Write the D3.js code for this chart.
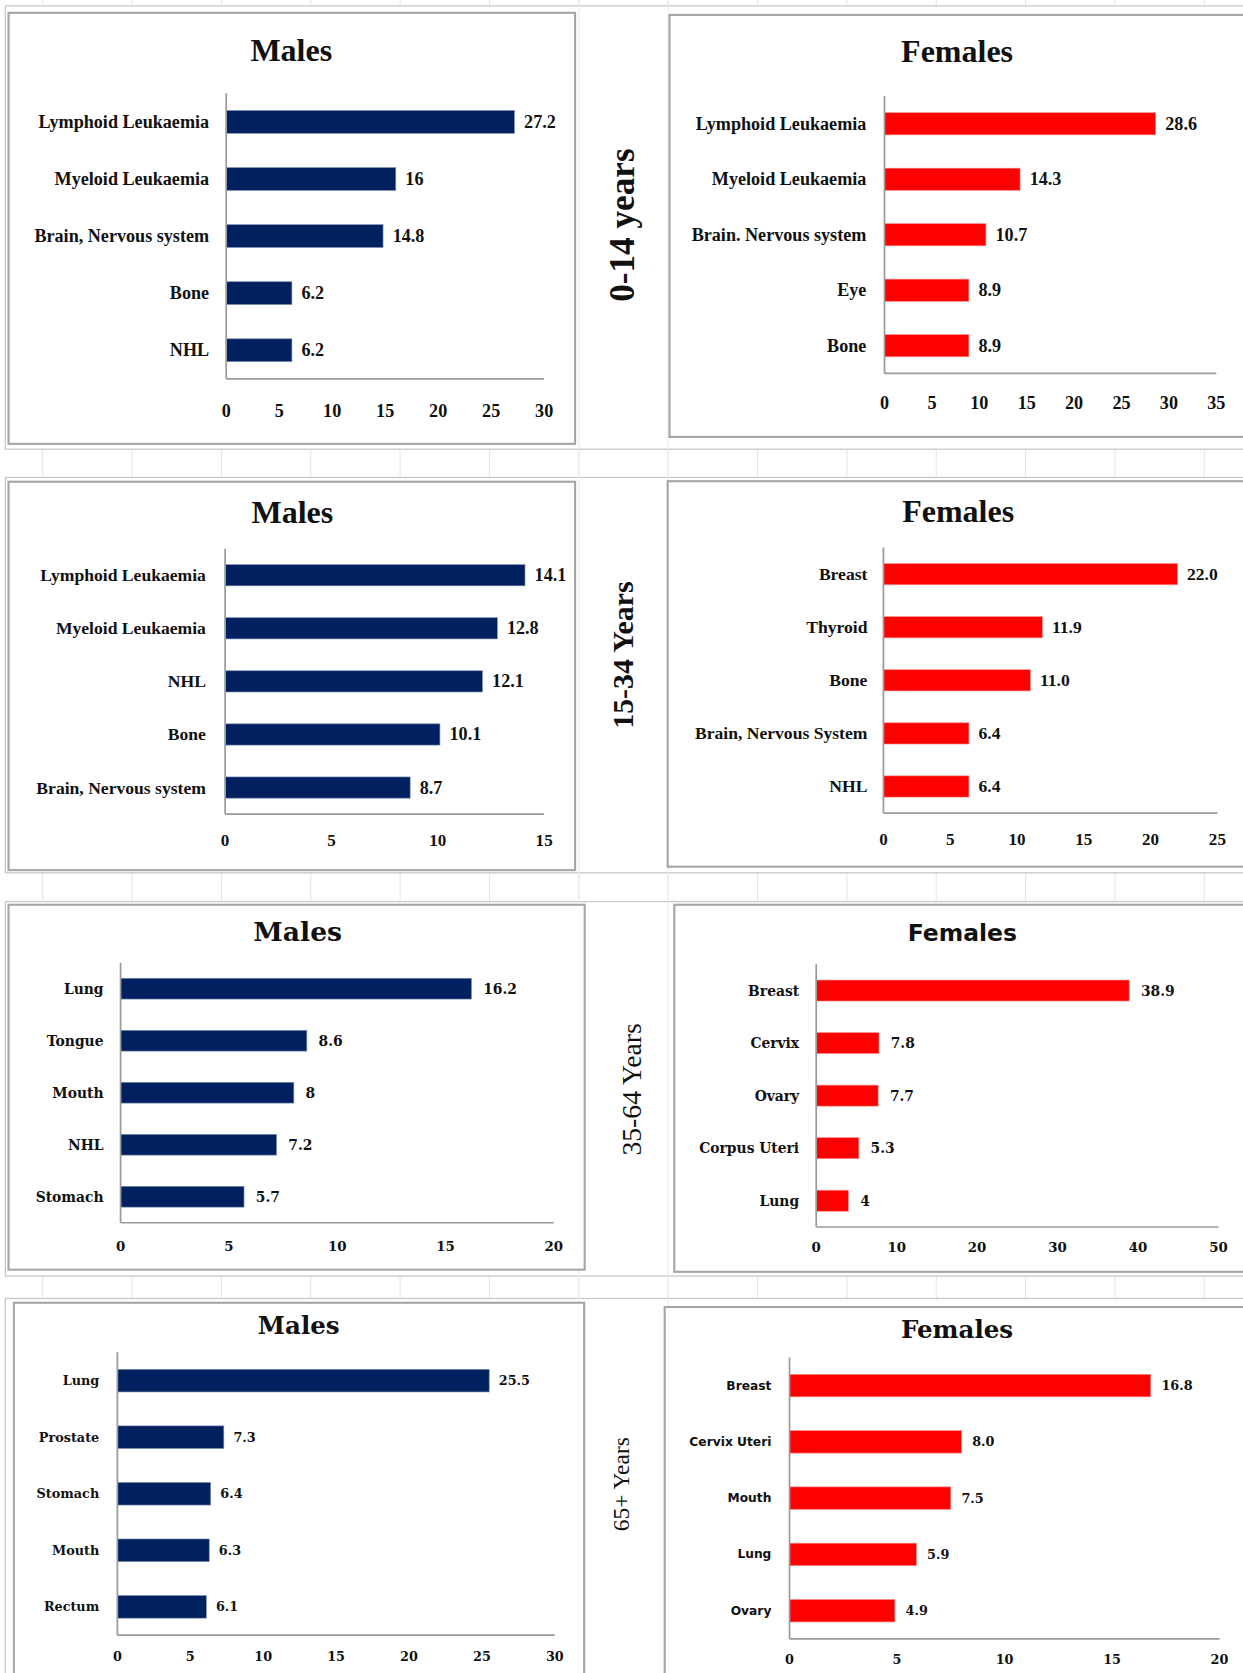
<!DOCTYPE html>
<html>
<head>
<meta charset="utf-8">
<script src="https://cdn.jsdelivr.net/npm/d3@7"></script>
<style>
  html, body { margin: 0; padding: 0; background: #fff; }
</style>
</head>
<body>
<div id="chart"></div>
<script>
// ---- data ----
const ageGroups = ["0-14 years", "15-34 Years", "35-64 Years", "65+ Years"];

const male014Cats = ["Lymphoid Leukaemia", "Myeloid Leukaemia", "Brain, Nervous system", "Bone", "NHL"];
const male014Vals = [27.2, 16, 14.8, 6.2, 6.2];
const male014Ticks = [0, 5, 10, 15, 20, 25, 30];

const female014Cats = ["Lymphoid Leukaemia", "Myeloid Leukaemia", "Brain. Nervous system", "Eye", "Bone"];
const female014Vals = [28.6, 14.3, 10.7, 8.9, 8.9];
const female014Ticks = [0, 5, 10, 15, 20, 25, 30, 35];

const male1534Cats = ["Lymphoid Leukaemia", "Myeloid Leukaemia", "NHL", "Bone", "Brain, Nervous system"];
const male1534Vals = [14.1, 12.8, 12.1, 10.1, 8.7];
const male1534Ticks = [0, 5, 10, 15];

const female1534Cats = ["Breast", "Thyroid", "Bone", "Brain, Nervous System", "NHL"];
const female1534Vals = [22.0, 11.9, 11.0, 6.4, 6.4];
const female1534Ticks = [0, 5, 10, 15, 20, 25];

const male3564Cats = ["Lung", "Tongue", "Mouth", "NHL", "Stomach"];
const male3564Vals = [16.2, 8.6, 8, 7.2, 5.7];
const male3564Ticks = [0, 5, 10, 15, 20];

const female3564Cats = ["Breast", "Cervix", "Ovary", "Corpus Uteri", "Lung"];
const female3564Vals = [38.9, 7.8, 7.7, 5.3, 4];
const female3564Ticks = [0, 10, 20, 30, 40, 50];

const male65Cats = ["Lung", "Prostate", "Stomach", "Mouth", "Rectum"];
const male65Vals = [25.5, 7.3, 6.4, 6.3, 6.1];
const male65Ticks = [0, 5, 10, 15, 20, 25, 30];

const female65Cats = ["Breast", "Cervix Uteri", "Mouth", "Lung", "Ovary"];
const female65Vals = [16.8, 8.0, 7.5, 5.9, 4.9];
const female65Ticks = [0, 5, 10, 15, 20];

// ---- look ----
const NAVY = "#002060", RED = "#ff0000";
const TIMES = "'Liberation Serif', 'Times New Roman', serif";
const WIDE = "'DejaVu Serif', serif";
const SANS = "'DejaVu Sans', Verdana, sans-serif";

const W = 1165, H = 1568; // drawing units, scaled to the window

const svg = d3.select("#chart").append("svg")
    .attr("width", 1243)
    .attr("height", 1673)
    .attr("viewBox", `0 0 ${W} ${H}`);

// faint spreadsheet column lines behind the charts
svg.append("g").selectAll("line")
    .data(d3.range(40, W, 83.75))
    .enter().append("line")
    .attr("x1", d => d).attr("x2", d => d)
    .attr("y1", 0).attr("y2", H)
    .attr("stroke", "#e6e6e6").attr("stroke-width", 1);

// outer row boxes
const rows = [
    {y0: 5.5, y1: 421, label: {x: 583, y: 211, size: 33, weight: "bold"}},
    {y0: 447.5, y1: 818, label: {x: 583, y: 614, size: 28, weight: "bold"}},
    {y0: 845, y1: 1196, label: {x: 592, y: 1021, size: 26, weight: "normal"}},
    {y0: 1217, y1: 1600, label: {x: 582, y: 1391, size: 22, weight: "normal"}}
];

rows.forEach(r => {
    svg.append("rect")
        .attr("x", 5).attr("y", r.y0)
        .attr("width", W + 20).attr("height", r.y1 - r.y0)
        .attr("fill", "#fff")
        .attr("stroke", "#c8c8c8").attr("stroke-width", 1.2);
});

// column lines that show through the gap between the two frames
svg.append("g").selectAll("line")
    .data([542.5, 626.3])
    .enter().append("line")
    .attr("x1", d => d).attr("x2", d => d)
    .attr("y1", 0).attr("y2", H)
    .attr("stroke", "#ececec").attr("stroke-width", 1);

const panels = [
    {cats: male014Cats, vals: male014Vals, ticks: male014Ticks, color: NAVY, title: "Males",
     frame: [8, 12, 539, 416], x0: 212, x1: 510, bottom: 355, tickY: 385, catX: 196, titleX: 273, titleY: 47,
     titleFont: TIMES, titleSize: 30, catFont: TIMES, catSize: 17, valFont: TIMES, valSize: 17, tickSize: 17, tickFont: TIMES, gap: 9},
    {cats: female014Cats, vals: female014Vals, ticks: female014Ticks, color: RED, title: "Females",
     frame: [627.5, 14, 1180, 409.5], x0: 829, x1: 1140, bottom: 350, tickY: 378, catX: 812, titleX: 897, titleY: 48,
     titleFont: TIMES, titleSize: 30, catFont: TIMES, catSize: 17, valFont: TIMES, valSize: 17, tickSize: 17, tickFont: TIMES, gap: 9},
    {cats: male1534Cats, vals: male1534Vals, ticks: male1534Ticks, color: NAVY, title: "Males",
     frame: [8, 451.5, 539, 815.5], x0: 211, x1: 510, bottom: 763, tickY: 788, catX: 193, titleX: 274, titleY: 480,
     titleFont: TIMES, titleSize: 30, catFont: TIMES, catSize: 16.5, valFont: TIMES, valSize: 17, tickSize: 16, tickFont: TIMES, gap: 9},
    {cats: female1534Cats, vals: female1534Vals, ticks: female1534Ticks, color: RED, title: "Females", fmt: ".1f",
     frame: [625.8, 451, 1180, 812.3], x0: 828, x1: 1141, bottom: 762, tickY: 787, catX: 813, titleX: 898, titleY: 479,
     titleFont: TIMES, titleSize: 30, catFont: TIMES, catSize: 16.5, valFont: TIMES, valSize: 16.5, tickSize: 16, tickFont: TIMES, gap: 9},
    {cats: male3564Cats, vals: male3564Vals, ticks: male3564Ticks, color: NAVY, title: "Males",
     frame: [8, 848, 548, 1190], x0: 113, x1: 519, bottom: 1146, tickY: 1168, catX: 97, titleX: 279, titleY: 873,
     titleFont: WIDE, titleSize: 25, catFont: WIDE, catSize: 13, valFont: WIDE, valSize: 13, tickSize: 12.5, tickFont: WIDE, gap: 11},
    {cats: female3564Cats, vals: female3564Vals, ticks: female3564Ticks, color: RED, title: "Females",
     frame: [632, 848, 1180, 1192], x0: 765, x1: 1142, bottom: 1150, tickY: 1169, catX: 749, titleX: 902, titleY: 874,
     titleFont: SANS, titleSize: 22, catFont: WIDE, catSize: 13, valFont: WIDE, valSize: 13, tickSize: 12.5, tickFont: WIDE, gap: 11},
    {cats: male65Cats, vals: male65Vals, ticks: male65Ticks, color: NAVY, title: "Males",
     frame: [13, 1221, 547.5, 1600], x0: 110, x1: 520, bottom: 1532.5, tickY: 1553, catX: 93, titleX: 280, titleY: 1242,
     titleFont: WIDE, titleSize: 23, catFont: WIDE, catSize: 12, valFont: WIDE, valSize: 12, tickSize: 12, tickFont: WIDE, gap: 9},
    {cats: female65Cats, vals: female65Vals, ticks: female65Ticks, color: RED, title: "Females", fmt: ".1f",
     frame: [623, 1225, 1180, 1600], x0: 740, x1: 1143, bottom: 1536, tickY: 1555, catX: 723, titleX: 897, titleY: 1246,
     titleFont: WIDE, titleSize: 23, catFont: SANS, catSize: 11.5, valFont: WIDE, valSize: 12, tickSize: 12, tickFont: WIDE, gap: 10}
];

// bar centre spacing for each panel, as measured
const steps = [53.5, 52, 49.75, 49.75, 48.75, 49.25, 53, 52.75];

panels.forEach((p, i) => {
    const g = svg.append("g");
    const [fx0, fy0, fx1, fy1] = p.frame;

    g.append("rect")
        .attr("x", fx0).attr("y", fy0)
        .attr("width", fx1 - fx0).attr("height", fy1 - fy0)
        .attr("fill", "#fff")
        .attr("stroke", "#a6a6a6").attr("stroke-width", 2);

    const top = p.bottom - steps[i] * p.cats.length;

    const x = d3.scaleLinear()
        .domain([0, d3.max(p.ticks)])
        .range([p.x0, p.x1]);

    const y = d3.scaleBand()
        .domain(p.cats)
        .range([top, p.bottom])
        .paddingInner(0.6)
        .paddingOuter(0.3);

    // title
    g.append("text")
        .attr("x", p.titleX)
        .attr("y", p.titleY)
        .attr("text-anchor", "middle")
        .attr("dominant-baseline", "central")
        .style("font-family", p.titleFont)
        .style("font-size", p.titleSize + "px")
        .style("font-weight", "bold")
        .attr("fill", "#111")
        .text(p.title);

    // bars
    g.append("g").selectAll("rect")
        .data(p.vals)
        .enter().append("rect")
        .attr("x", x(0))
        .attr("y", (d, j) => y(p.cats[j]))
        .attr("width", d => x(d) - x(0))
        .attr("height", y.bandwidth())
        .attr("fill", p.color)
        .attr("stroke", p.color === NAVY ? "#7f8fb0" : "#ff9090")
        .attr("stroke-width", 0.6);

    // value labels
    const fmt = p.fmt ? d3.format(p.fmt) : (d => String(d));
    g.append("g").selectAll("text")
        .data(p.vals)
        .enter().append("text")
        .attr("x", d => x(d) + p.gap)
        .attr("y", (d, j) => y(p.cats[j]) + y.bandwidth() / 2)
        .attr("dominant-baseline", "central")
        .style("font-family", p.valFont)
        .style("font-size", p.valSize + "px")
        .style("font-weight", "bold")
        .attr("fill", "#111")
        .text(fmt);

    // category labels
    g.append("g").selectAll("text")
        .data(p.cats)
        .enter().append("text")
        .attr("x", p.catX)
        .attr("y", d => y(d) + y.bandwidth() / 2)
        .attr("text-anchor", "end")
        .attr("dominant-baseline", "central")
        .style("font-family", p.catFont)
        .style("font-size", p.catSize + "px")
        .style("font-weight", "bold")
        .attr("fill", "#111")
        .text(d => d);

    // axis lines
    g.append("line")
        .attr("x1", x(0)).attr("x2", x(0))
        .attr("y1", top).attr("y2", p.bottom)
        .attr("stroke", "#9a9a9a").attr("stroke-width", 1.6);
    g.append("line")
        .attr("x1", x(0)).attr("x2", p.x1)
        .attr("y1", p.bottom).attr("y2", p.bottom)
        .attr("stroke", "#9a9a9a").attr("stroke-width", 1.6);

    // tick labels
    g.append("g").selectAll("text")
        .data(p.ticks)
        .enter().append("text")
        .attr("x", d => x(d))
        .attr("y", p.tickY)
        .attr("text-anchor", "middle")
        .attr("dominant-baseline", "central")
        .style("font-family", p.tickFont)
        .style("font-size", p.tickSize + "px")
        .style("font-weight", "bold")
        .attr("fill", "#111")
        .text(d => d);
});

// age group labels, rotated
rows.forEach((r, i) => {
    svg.append("text")
        .attr("transform", `translate(${r.label.x},${r.label.y}) rotate(-90)`)
        .attr("text-anchor", "middle")
        .attr("dominant-baseline", "central")
        .style("font-family", TIMES)
        .style("font-size", r.label.size + "px")
        .style("font-weight", r.label.weight)
        .attr("fill", "#111")
        .text(ageGroups[i]);
});
</script>
</body>
</html>
